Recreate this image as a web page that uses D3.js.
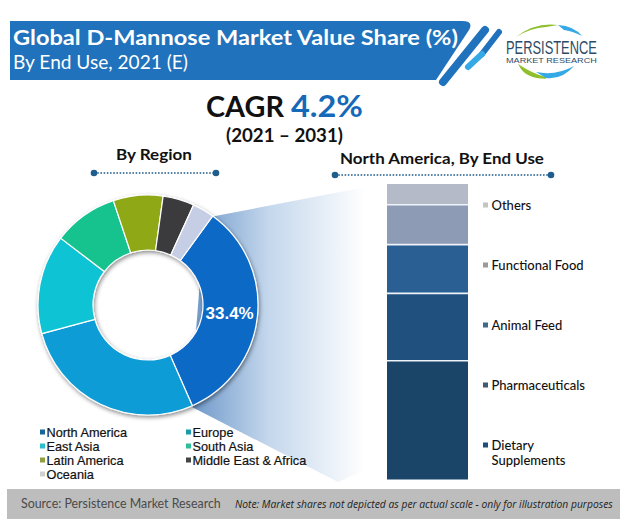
<!DOCTYPE html>
<html>
<head>
<meta charset="utf-8">
<script src="https://cdn.jsdelivr.net/npm/d3@7"></script>
<style>
  html,body{margin:0;padding:0;background:#fff;}
  svg{display:block;}
  text{font-family:"Lato","Open Sans",sans-serif;}
</style>
</head>
<body>
<div id="chart"></div>
<script>
// region share
var regions = ["North America","Europe","East Asia","South Asia","Latin America","Middle East & Africa","Oceania"];
var regionShare = [33.4,27.4,14.6,9.5,7.3,4.6,3.2];
var regionColors = ["#0f69c6","#0b9cd6","#10c3d4","#12c38f","#8fa914","#3a3a3c","#c6cee6"];
var legendColors = ["#1a6496","#1b9aae","#2bbfcb","#2cbf9a","#939f3f","#444444","#cfcfcf"];

// north america stack, bottom to top
var uses = ["Dietary Supplements","Pharmaceuticals","Animal Feed","Functional Food","Others"];
var useShare = [40.2,22.8,16.5,13.5,7.0];
var useColors = ["#1b4469","#20507e","#2a5f93","#8d9bb5","#b4bac8"];
var useMarkers = ["#1f4f78","#3f5a74","#3f6a8c","#9a9a9a","#c4c4c4"];

var svg = d3.select("#chart").append("svg").attr("width",620).attr("height",519);
var defs = svg.append("defs");

var fade = defs.append("linearGradient").attr("id","fade").attr("gradientUnits","userSpaceOnUse")
    .attr("x1",190).attr("x2",365).attr("y1",0).attr("y2",0);
fade.append("stop").attr("offset",0).attr("stop-color","#6c97c9");
fade.append("stop").attr("offset",0.45).attr("stop-color","#c4d7ec");
fade.append("stop").attr("offset",1).attr("stop-color","#ffffff");

var shadow = defs.append("filter").attr("id","shadow")
    .attr("x","-10%").attr("y","-10%").attr("width","120%").attr("height","120%");
shadow.append("feDropShadow").attr("dx",1).attr("dy",2).attr("stdDeviation",2)
    .attr("flood-color","#000").attr("flood-opacity",0.45);

// len squeezes the text to the measured width of the original
function label(x,y,str,size,opts){
  opts = opts || {};
  var t = svg.append("text").attr("x",x).attr("y",y).text(str)
      .attr("font-size",size)
      .attr("font-weight",opts.weight||"normal")
      .attr("fill",opts.fill||"#111");
  if (opts.style) t.attr("font-style",opts.style);
  if (opts.family) t.style("font-family",opts.family);
  var natural = t.node().getComputedTextLength();
  var sx = opts.len ? opts.len/natural : opts.stretch;
  if (sx) {
    t.attr("x",0).attr("y",0)
     .attr("transform","translate("+x+","+y+") scale("+sx+",1)");
  }
  return t;
}

// banner
svg.append("path")
  .attr("d","M10,21H462Q474,21 469,30L436,80H10Z")
  .attr("fill","#1f72bb");
svg.append("line").attr("x1",485).attr("y1",30).attr("x2",443).attr("y2",82)
  .attr("stroke","#1f72bb").attr("stroke-width",8).attr("stroke-linecap","round");
svg.append("line").attr("x1",499).attr("y1",32).attr("x2",482).attr("y2",54)
  .attr("stroke","#1f72bb").attr("stroke-width",6).attr("stroke-linecap","round");
svg.append("line").attr("x1",482).attr("y1",54).attr("x2",468).attr("y2",67)
  .attr("stroke","#35a9e6").attr("stroke-width",6).attr("stroke-linecap","round");
label(13,45,"Global D-Mannose Market Value Share (%)",21,{weight:"bold",fill:"#fff",len:445});
label(13,69,"By End Use, 2021 (E)",19,{fill:"#fff",len:175});

// logo
svg.append("path").attr("d","M516,37Q535,22 558,25Q552,26 546,27Q530,28 516,37Z").attr("fill","#8fbf2c");
svg.append("path").attr("d","M558,25Q574,26 582,36Q572,31 564,30Z").attr("fill","#35a9e6");
svg.append("path").attr("d","M520,66Q526,78 546,78Q532,74 520,66Z").attr("fill","#8fbf2c").attr("stroke","#8fbf2c").attr("stroke-width",1.5);
svg.append("path").attr("d","M536,72Q556,76 574,66Q562,80 546,78Z").attr("fill","#35a9e6");
label(506,54,"PERSISTENCE",19,{fill:"#2d4a66",len:91,family:"'Liberation Sans Narrow','Liberation Sans',sans-serif"});
label(506,63,"MARKET RESEARCH",7,{fill:"#2d4a66",len:91,family:"'Liberation Sans',sans-serif"});

// cagr
label(206,117,"CAGR",28,{weight:"bold",len:78});
label(291,117,"4.2%",30,{weight:"bold",fill:"#1569b8",len:72});
label(226,142,"(2021 – 2031)",18,{weight:"bold",len:117});

// section headings
function dotted(x1,x2,y){
  svg.append("line").attr("x1",x1).attr("x2",x2).attr("y1",y).attr("y2",y)
    .attr("stroke","#1f5d8c").attr("stroke-width",1.6).attr("stroke-dasharray","1.6 1.6");
  svg.selectAll(null).data([x1,x2]).enter().append("circle")
    .attr("cx",d=>d).attr("cy",y).attr("r",3.3).attr("fill","#1f5d8c");
}
label(116,160,"By Region",15.5,{weight:"bold",len:76});
dotted(94,216,173);
label(340,164,"North America, By End Use",15.5,{weight:"bold",len:204});
dotted(335,551,175);

// fan from the donut slice to the stack
svg.append("path")
  .attr("d","M205,218L387,183V205L365,470L338,482L190,406Z")
  .attr("fill","url(#fade)");

// donut
var cx = 148, cy = 305;
var pie = d3.pie().sort(null).startAngle(36*Math.PI/180).endAngle((360+36)*Math.PI/180);
var arc = d3.arc().innerRadius(55).outerRadius(110);
var donut = svg.append("g").attr("transform","translate("+cx+","+cy+")")
    .attr("filter","url(#shadow)");
donut.selectAll("path").data(pie(regionShare)).enter().append("path")
  .attr("d",arc)
  .attr("fill",(d,i)=>regionColors[i])
  .attr("stroke","#fff").attr("stroke-width",1.2);
var first = pie(regionShare)[0];
var labAngle = first.startAngle+1.04;
var lab = d3.arc().innerRadius(82).outerRadius(82).centroid({startAngle:labAngle,endAngle:labAngle});
svg.append("text").attr("x",cx+lab[0]).attr("y",cy+lab[1]+6)
  .attr("text-anchor","middle").attr("font-size",17).attr("font-weight","bold").attr("fill","#fff")
  .style("font-family","'Liberation Sans',Arial,sans-serif")
  .text(regionShare[0].toFixed(1)+"%");

// region legend, filled row by row. rows are only 14px apart so the font has to stay compact
var legendX = d3.scalePoint().domain([0,1]).range([40,186]);
var legendY = d3.scalePoint().domain([0,1,2,3]).range([432,474]);
regions.forEach(function(name,i){
  var col = i==6 ? 0 : i%2, row = Math.floor(i/2);
  svg.append("rect").attr("x",legendX(col)).attr("y",legendY(row)-2.5).attr("width",5).attr("height",5)
    .attr("fill",legendColors[i]);
  label(legendX(col)+6.5,legendY(row)+4.5,name,12,{stretch:1.06,family:"'Liberation Sans',sans-serif"})
    .attr("stroke","#111").attr("stroke-width",0.2);
});

// stacked column
var stackY = d3.scaleLinear().domain([0,d3.sum(useShare)]).range([479.5,184]);
var stacked = d3.stack().keys(uses)([Object.fromEntries(uses.map((u,i)=>[u,useShare[i]]))]);
svg.selectAll(".seg").data(stacked).enter().append("rect").attr("class","seg")
  .attr("x",387).attr("width",81)
  .attr("y",d=>stackY(d[0][1]))
  .attr("height",d=>stackY(d[0][0])-stackY(d[0][1]))
  .attr("fill",(d,i)=>useColors[i]);
svg.selectAll(".gap").data(stacked.slice(0,-1)).enter().append("line").attr("class","gap")
  .attr("x1",387).attr("x2",468)
  .attr("y1",d=>stackY(d[0][1])).attr("y2",d=>stackY(d[0][1]))
  .attr("stroke","#eef4fa").attr("stroke-width",1.6);

var useY = d3.scalePoint().domain([4,3,2,1,0]).range([205,445]);
uses.forEach(function(name,i){
  svg.append("rect").attr("x",483).attr("y",useY(i)-2.5).attr("width",5).attr("height",5)
    .attr("fill",useMarkers[i]);
  var parts = i==0 ? name.split(" ") : [name];
  parts.forEach(function(p,j){
    label(491.5,useY(i)+4.5+j*15,p,13,{weight:500});
  });
});

// footer
svg.append("rect").attr("x",7).attr("y",489).attr("width",613).attr("height",30).attr("fill","#bdbdbd");
label(21,508,"Source: Persistence Market Research",13,{fill:"#4a4a4a",len:200});
label(235,508,"Note: Market shares not depicted as per actual scale - only for illustration purposes",11,
  {fill:"#222",style:"italic",len:378,family:"'Open Sans',sans-serif"});
</script>
</body>
</html>
